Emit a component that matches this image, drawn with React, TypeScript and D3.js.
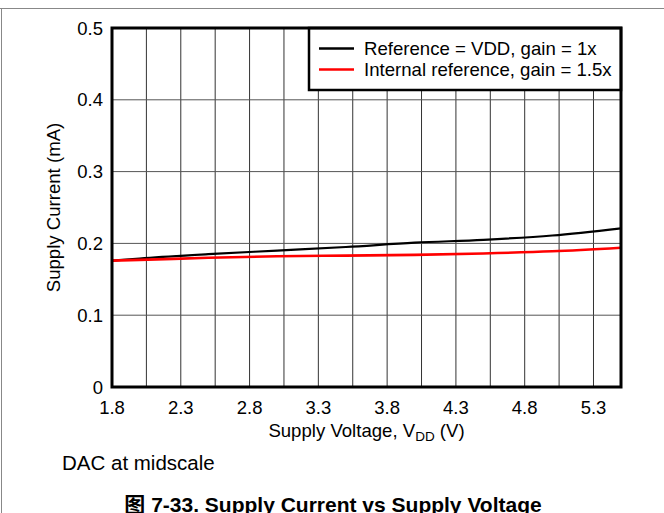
import React from "react";
import * as d3 from "d3";

const voltages = [1.8, 2.0, 2.5, 3.0, 3.5, 4.0, 4.5, 5.0, 5.5];
const currentVddRef = [0.176, 0.179, 0.185, 0.19, 0.195, 0.201, 0.205, 0.211, 0.221];
const currentIntRef = [0.176, 0.177, 0.18, 0.182, 0.183, 0.184, 0.186, 0.189, 0.194];
const xTickLabels = [1.8, 2.3, 2.8, 3.3, 3.8, 4.3, 4.8, 5.3];
const xGridValues = d3.range(0, 15).map((i) => 1.8 + i * 0.25);
const yTickLabels = [0, 0.1, 0.2, 0.3, 0.4, 0.5];
const seriesNames = ["Reference = VDD, gain = 1x", "Internal reference, gain = 1.5x"];
const seriesColors = ["#000000", "#ff0000"];

const W = 664;
const H = 513;
const left = 112;
const right = 621;
const top = 28;
const bottom = 387;
const font = "'Liberation Sans', Arial, Helvetica, sans-serif";

export default function App() {
  const x = d3.scaleLinear().domain([1.8, 5.5]).range([left, right]);
  const y = d3.scaleLinear().domain([0, 0.5]).range([bottom, top]);
  const line = d3
    .line<[number, number]>()
    .x((d) => x(d[0]))
    .y((d) => y(d[1]))
    .curve(d3.curveMonotoneX);
  const series = [currentVddRef, currentIntRef].map((vals) =>
    voltages.map((v, i) => [v, vals[i]] as [number, number])
  );

  return (
    <svg
      width={W}
      height={H}
      style={{ position: "absolute", left: 0, top: 0, background: "#fff" }}
      fontFamily={font}
    >
      <rect x={0} y={0} width={W} height={H} fill="#fff" />
      <line x1={0} x2={W} y1={8.5} y2={8.5} stroke="#888" strokeWidth={1} />
      <line x1={1.5} x2={1.5} y1={8} y2={H} stroke="#888" strokeWidth={1} />

      {/* grid */}
      {xGridValues
        .filter((v) => v > 1.81 && v < 5.49)
        .map((v) => (
          <line key={"gx" + v} x1={x(v)} x2={x(v)} y1={top} y2={bottom} stroke="#333" strokeWidth={1} />
        ))}
      {yTickLabels
        .filter((v) => v > 0 && v < 0.5)
        .map((v) => (
          <line key={"gy" + v} x1={left} x2={right} y1={y(v)} y2={y(v)} stroke="#555" strokeWidth={1} />
        ))}

      {/* series */}
      {series.map((s, i) => (
        <path key={i} d={line(s) || ""} fill="none" stroke={seriesColors[i]} strokeWidth={i === 0 ? 2.2 : 2.6} />
      ))}

      {/* legend */}
      <rect x={309} y={top} width={right - 309} height={62} fill="#fff" stroke="#000" strokeWidth={2.5} />
      {seriesNames.map((n, i) => (
        <g key={n}>
          <line x1={319} x2={354} y1={48.5 + i * 21} y2={48.5 + i * 21} stroke={seriesColors[i]} strokeWidth={2.5} />
          <text x={364} y={55 + i * 21} fontSize={18.6} fill="#000">
            {n}
          </text>
        </g>
      ))}

      {/* frame */}
      <rect x={left} y={top} width={right - left} height={bottom - top} fill="none" stroke="#000" strokeWidth={3} />

      {/* ticks */}
      {xTickLabels.map((v) => (
        <text key={"xt" + v} x={x(v)} y={414} fontSize={18.5} textAnchor="middle" fill="#000">
          {v.toFixed(1)}
        </text>
      ))}
      {yTickLabels.map((v) => (
        <text key={"yt" + v} x={103} y={y(v) + 6.5} fontSize={18.5} textAnchor="end" fill="#000">
          {v === 0 ? "0" : v.toFixed(1)}
        </text>
      ))}

      {/* axis titles */}
      <text x={(left + right) / 2} y={437} fontSize={18.6} textAnchor="middle" fill="#000">
        Supply Voltage, V<tspan fontSize={13.5} dy={4}>DD</tspan>
        <tspan dy={-4}> (V)</tspan>
      </text>
      <text
        transform={`translate(60,${(top + bottom) / 2}) rotate(-90)`}
        fontSize={18.6}
        textAnchor="middle"
        fill="#000"
      >
        Supply Current (mA)
      </text>

      <text x={62} y={470} fontSize={20.5} fill="#000">
        DAC at midscale
      </text>
      <text x={W / 2 + 1} y={511.5} fontSize={21} fontWeight="bold" textAnchor="middle" fill="#000">
        <tspan fontFamily="'Noto Sans CJK SC', sans-serif">图</tspan> 7-33. Supply Current vs Supply Voltage
      </text>
    </svg>
  );
}
